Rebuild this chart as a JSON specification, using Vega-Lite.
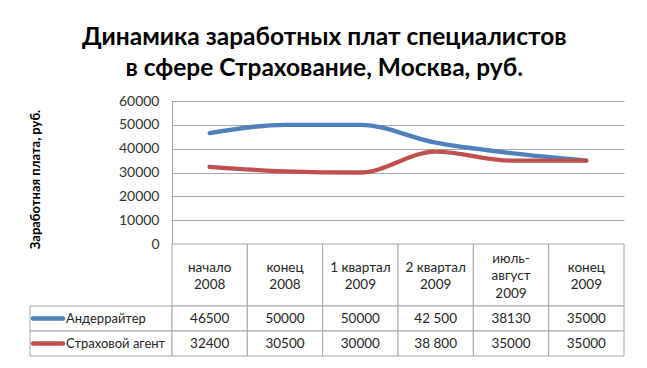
{
  "$schema": "https://vega.github.io/schema/vega-lite/v6.json",
  "background": "white",
  "padding": {"left": 24, "top": 24, "right": 20, "bottom": 8},
  "title": {
    "text": ["Динамика заработных плат специалистов", "в сфере Страхование, Москва, руб."],
    "fontSize": 24.5,
    "fontWeight": "bold",
    "font": "Lato",
    "color": "black",
    "lineHeight": 31,
    "anchor": "middle",
    "offset": 13
  },
  "datasets": {
    "salaries": [
      {"cat": "начало\n2008", "series": "Андеррайтер", "value": 46500, "label": "46500"},
      {"cat": "конец\n2008", "series": "Андеррайтер", "value": 50000, "label": "50000"},
      {"cat": "1 квартал\n2009", "series": "Андеррайтер", "value": 50000, "label": "50000"},
      {"cat": "2 квартал\n2009", "series": "Андеррайтер", "value": 42500, "label": "42 500"},
      {"cat": "июль-\nавгуст\n2009", "series": "Андеррайтер", "value": 38130, "label": "38130"},
      {"cat": "конец\n2009", "series": "Андеррайтер", "value": 35000, "label": "35000"},
      {"cat": "начало\n2008", "series": "Страховой агент", "value": 32400, "label": "32400"},
      {"cat": "конец\n2008", "series": "Страховой агент", "value": 30500, "label": "30500"},
      {"cat": "1 квартал\n2009", "series": "Страховой агент", "value": 30000, "label": "30000"},
      {"cat": "2 квартал\n2009", "series": "Страховой агент", "value": 38800, "label": "38 800"},
      {"cat": "июль-\nавгуст\n2009", "series": "Страховой агент", "value": 35000, "label": "35000"},
      {"cat": "конец\n2009", "series": "Страховой агент", "value": 35000, "label": "35000"}
    ]
  },
  "columns": 2,
  "spacing": 0,
  "bounds": "flush",
  "concat": [
    {
      "width": 142,
      "height": 143,
      "data": {"values": []},
      "mark": {"type": "text"},
      "encoding": {}
    },
    {
      "width": 452,
      "height": 143,
      "data": {"name": "salaries"},
      "mark": {"type": "line", "interpolate": "monotone", "strokeWidth": 4.3, "strokeCap": "round"},
      "encoding": {
        "x": {"field": "cat", "type": "nominal", "sort": null, "scale": {"type": "point", "padding": 0.5}, "axis": null},
        "y": {
          "field": "value",
          "type": "quantitative",
          "scale": {"domain": [0, 60000]},
          "axis": {
            "values": [0, 10000, 20000, 30000, 40000, 50000, 60000],
            "format": "d",
            "title": "Заработная плата, руб.",
            "titleFontSize": 13,
            "titleFontWeight": "bold",
            "titleColor": "black",
            "titlePadding": 76,
            "titleY": 78,
            "labelFontSize": 14,
            "labelColor": "#333333",
            "labelPadding": 13,
            "ticks": false,
            "grid": true,
            "gridColor": "#a6a6a6",
            "domainColor": "#a6a6a6"
          }
        },
        "color": {
          "field": "series",
          "type": "nominal",
          "sort": null,
          "scale": {"domain": ["Андеррайтер", "Страховой агент"], "range": ["#4f81bd", "#c0504d"]},
          "legend": null
        }
      }
    },
    {
      "width": 142,
      "height": 62,
      "data": {"values": []},
      "mark": {"type": "text"},
      "encoding": {}
    },
    {
      "width": 452,
      "height": 62,
      "data": {"name": "salaries"},
      "transform": [{"filter": "datum.series === 'Андеррайтер'"}],
      "layer": [
        {
          "mark": {"type": "rect", "fill": "white", "stroke": "#a6a6a6", "strokeWidth": 1},
          "encoding": {
            "x": {"field": "cat", "type": "nominal", "sort": null, "scale": {"type": "band", "paddingInner": 0, "paddingOuter": 0}, "axis": null}
          }
        },
        {
          "transform": [{"filter": "indexof(datum.cat, 'июль') < 0"}],
          "mark": {"type": "text", "lineBreak": "\n", "fontSize": 13.5, "lineHeight": 17.5, "baseline": "middle", "dy": -7.5, "color": "#262626"},
          "encoding": {
            "x": {"field": "cat", "type": "nominal", "sort": null, "scale": {"type": "band", "paddingInner": 0, "paddingOuter": 0}, "axis": null},
            "text": {"field": "cat"}
          }
        },
        {
          "transform": [{"filter": "indexof(datum.cat, 'июль') >= 0"}],
          "mark": {"type": "text", "lineBreak": "\n", "fontSize": 13.5, "lineHeight": 17.5, "baseline": "middle", "dy": -16.5, "color": "#262626"},
          "encoding": {
            "x": {"field": "cat", "type": "nominal", "sort": null, "scale": {"type": "band", "paddingInner": 0, "paddingOuter": 0}, "axis": null},
            "text": {"field": "cat"}
          }
        }
      ]
    },
    {
      "width": 142,
      "height": 50,
      "data": {"name": "salaries"},
      "transform": [{"filter": "datum.cat === 'начало\\n2008'"}],
      "layer": [
        {
          "mark": {"type": "rect", "fill": "white", "stroke": "#a6a6a6", "strokeWidth": 1},
          "encoding": {
            "y": {"field": "series", "type": "nominal", "sort": null, "scale": {"type": "band", "paddingInner": 0, "paddingOuter": 0}, "axis": null}
          }
        },
        {
          "mark": {"type": "point", "shape": "M-1,0L1,0", "size": 900, "filled": false, "strokeWidth": 4.5, "strokeCap": "round", "opacity": 1, "xOffset": -53},
          "encoding": {
            "y": {"field": "series", "type": "nominal", "sort": null, "scale": {"type": "band", "paddingInner": 0, "paddingOuter": 0}, "axis": null},
            "color": {
              "field": "series",
              "type": "nominal",
              "sort": null,
              "scale": {"domain": ["Андеррайтер", "Страховой агент"], "range": ["#4f81bd", "#c0504d"]},
              "legend": null
            }
          }
        },
        {
          "mark": {"type": "text", "align": "left", "dx": -35, "fontSize": 13, "color": "#262626"},
          "encoding": {
            "y": {"field": "series", "type": "nominal", "sort": null, "scale": {"type": "band", "paddingInner": 0, "paddingOuter": 0}, "axis": null},
            "text": {"field": "series"}
          }
        }
      ]
    },
    {
      "width": 452,
      "height": 50,
      "data": {"name": "salaries"},
      "layer": [
        {
          "mark": {"type": "rect", "fill": "white", "stroke": "#a6a6a6", "strokeWidth": 1},
          "encoding": {
            "x": {"field": "cat", "type": "nominal", "sort": null, "scale": {"type": "band", "paddingInner": 0, "paddingOuter": 0}, "axis": null},
            "y": {"field": "series", "type": "nominal", "sort": null, "scale": {"type": "band", "paddingInner": 0, "paddingOuter": 0}, "axis": null}
          }
        },
        {
          "mark": {"type": "text", "fontSize": 13.5, "color": "#262626"},
          "encoding": {
            "x": {"field": "cat", "type": "nominal", "sort": null, "scale": {"type": "band", "paddingInner": 0, "paddingOuter": 0}, "axis": null},
            "y": {"field": "series", "type": "nominal", "sort": null, "scale": {"type": "band", "paddingInner": 0, "paddingOuter": 0}, "axis": null},
            "text": {"field": "label"}
          }
        }
      ]
    }
  ],
  "config": {
    "font": "Lato",
    "view": {"stroke": null},
    "axis": {"labelFont": "Lato", "titleFont": "Lato"}
  }
}
